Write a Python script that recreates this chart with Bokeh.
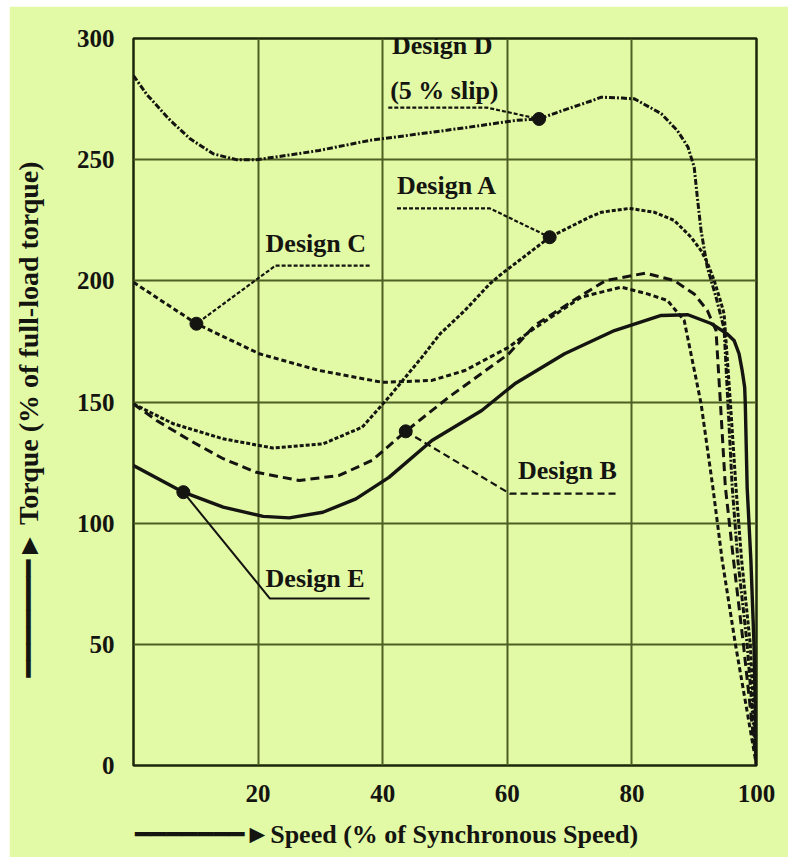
from bokeh.plotting import figure
from bokeh.models import Range1d, FixedTicker, Label
from bokeh.embed import file_html
from bokeh.resources import INLINE

# ---------------- data ----------------
speed_ticks = [20, 40, 60, 80, 100]
torque_ticks = [0, 50, 100, 150, 200, 250, 300]

design_a_x = [0, 6.4, 14.4, 22.4, 30.4, 36.7, 41, 46.3, 49.2, 53.2, 57.2, 59.1, 66.8, 73.2, 75.1, 79.6,
              83.6, 86.8, 89.5, 91.1, 92.1, 93.2, 94.2, 94.8, 95.8, 96.7, 97.6, 99.0, 100]
design_a_y = [149.2, 141, 134.8, 131, 132.7, 139.6, 152, 168.5, 178.1, 187.8, 198.8, 202.9, 218, 226.3, 228.3, 229.9,
              228.3, 224.9, 218, 212.5, 207.6, 200.2, 191.9, 186.4, 150, 115, 85, 50, 0]

design_b_x = [0, 3.7, 9.1, 14.4, 19.7, 26.6, 33, 38.3, 43.7, 50.6, 60.2, 64.4, 71.9, 75.8, 82.2,
              86.8, 90, 92.1, 93.5, 94.2, 95.0, 96.3, 97.9, 100]
design_b_y = [149.2, 142.4, 134.1, 126.6, 121, 117.6, 119.7, 125.9, 137.9, 152, 169.8, 181.6, 194, 200.1, 203.2,
              200.1, 194.6, 187.8, 179.5, 150, 115, 85, 50, 0]

design_c_x = [0, 10.1, 20.2, 29.8, 40, 47.9, 53.2, 60.2, 64.4, 71.9, 78.3, 82.5, 85.7, 88.4,
              91.1, 93, 94.5, 96.6, 100]
design_c_y = [199.4, 182.3, 169.9, 163, 158.1, 158.9, 163, 172.6, 180.5, 193.3, 197.4, 194.6, 191.9, 183.6,
              149.4, 114.7, 84.6, 50.3, 0]

design_d_x = [0, 2.1, 5.9, 9.1, 12.8, 16.5, 19.7, 23.4, 29.8, 37.8, 51.9, 61.4, 65.1, 68.9, 73.2, 75.1,
              78.5, 80.4, 84.7, 87.3, 89.0, 90.0, 90.5, 91.1, 92.1, 93.5, 94.8, 95.4, 96.1, 97.0, 98.5, 100]
design_d_y = [284.7, 277, 266.2, 258.6, 252.4, 250, 250, 251.3, 253.8, 257.9, 262.7, 266.2, 266.8, 270.3, 274, 275.8,
              275.4, 275.1, 269, 262, 255.2, 246.9, 234.5, 220.8, 205.6, 193.3, 180.2, 150, 115, 85, 50, 0]

design_e_x = [0, 8, 14.4, 20.8, 25, 30.4, 35.7, 41, 47.9, 55.9, 61.2, 69.2, 77.2, 84.7, 89,
              92.7, 95.3, 96.4, 97.2, 97.7, 98.1, 98.2, 98.5, 99.1, 99.6, 100]
design_e_y = [123.8, 112.8, 106.6, 102.8, 102.2, 104.5, 110, 118.9, 134.1, 146.5, 157.5, 169.9, 179.5, 185.7, 186,
              182.4, 178.1, 175.4, 169.9, 163, 156.1, 149.3, 114.8, 84.6, 50, 0]

design_names = ["Design A", "Design B", "Design C", "Design D", "Design E"]
marker_x = [66.8, 43.7, 10.1, 65.1, 8]
marker_y = [218, 137.9, 182.3, 266.8, 112.8]

# ---------------- styling ----------------
BG = "#e2f9a6"
INK = "#141410"
GRID = "#4d5f22"
FONT = "Liberation Serif"
LABEL_FONT = "Liberation Serif, DejaVu Sans"
NB = "\u00a0"
ARROW = "\u2501" * 7 + "\u25ba"

p = figure(width=779, height=851, x_range=Range1d(0, 100), y_range=Range1d(0, 300),
           output_backend="svg", toolbar_location=None,
           min_border_left=121, min_border_right=32, min_border_top=32, min_border_bottom=92,
           margin=(6, 0, 2, 9))
p.background_fill_color = BG
p.border_fill_color = BG
p.outline_line_color = "#1c260a"
p.outline_line_width = 2.5

for ax in (p.xaxis[0], p.yaxis[0]):
    ax.axis_line_color = None
    ax.major_tick_line_color = None
    ax.minor_tick_line_color = None
    ax.major_label_text_font = FONT
    ax.major_label_text_font_style = "bold"
    ax.major_label_text_font_size = "25px"
    ax.major_label_text_color = INK
    ax.major_label_standoff = 13
    ax.axis_label_text_font = LABEL_FONT
    ax.axis_label_text_font_style = "bold"
    ax.axis_label_text_color = INK

p.xaxis.axis_label_text_font_size = "26px"
p.yaxis.axis_label_text_font_size = "28px"
p.xaxis.ticker = FixedTicker(ticks=speed_ticks)
p.yaxis.ticker = FixedTicker(ticks=torque_ticks)
p.xgrid.ticker = FixedTicker(ticks=speed_ticks)
p.ygrid.ticker = FixedTicker(ticks=torque_ticks)
p.xaxis.axis_label = ARROW + "Speed (% of Synchronous Speed)" + NB * 18
p.yaxis.axis_label = ARROW + NB + "Torque (% of full-load torque)" + NB * 5
p.xaxis.axis_label_standoff = 15
p.yaxis.axis_label_standoff = 30

for g in (p.xgrid[0], p.ygrid[0]):
    g.grid_line_color = GRID
    g.grid_line_width = 2

# curves
p.line(design_d_x, design_d_y, line_color=INK, line_width=3, line_dash="6 2 2 2")
p.line(design_a_x, design_a_y, line_color=INK, line_width=3, line_dash="4 2")
p.line(design_c_x, design_c_y, line_color=INK, line_width=3, line_dash="5 3")
p.line(design_b_x, design_b_y, line_color=INK, line_width=3, line_dash="9 5")
p.line(design_e_x, design_e_y, line_color=INK, line_width=3.4)

# callout leaders
p.line([40.9, 56.7, marker_x[3]], [271.5, 271.5, marker_y[3]], line_color=INK, line_width=2.2, line_dash="4 2")
p.line([42.3, 57.2, marker_x[0]], [229.9, 229.9, marker_y[0]], line_color=INK, line_width=2.2, line_dash="4 2")
p.line([37.9, 22.8, marker_x[2]], [206.3, 206.3, marker_y[2]], line_color=INK, line_width=2.2, line_dash="4 2")
p.line([marker_x[1], 60.4, 77.5], [marker_y[1], 112.2, 112.2], line_color=INK, line_width=2.2, line_dash="7 4")
p.line([marker_x[4], 21.9, 37.9], [marker_y[4], 68.9, 68.9], line_color=INK, line_width=2)

p.scatter(marker_x, marker_y, size=13, fill_color=INK, line_color=INK)

def lab(x, y, t):
    p.add_layout(Label(x=x, y=y, text=t, text_font=FONT, text_font_style="bold",
                       text_font_size="26px", text_color=INK, text_baseline="middle", text_align="left"))

lab(41.5, 297, "Design D")
lab(41.2, 278.6, "(5 % slip)")
lab(42.3, 239.4, design_names[0])
lab(21.2, 215.4, design_names[2])
lab(61.7, 121.7, design_names[1])
lab(21.2, 77.2, design_names[4])

open("out.html", "w").write(file_html(p, INLINE))
